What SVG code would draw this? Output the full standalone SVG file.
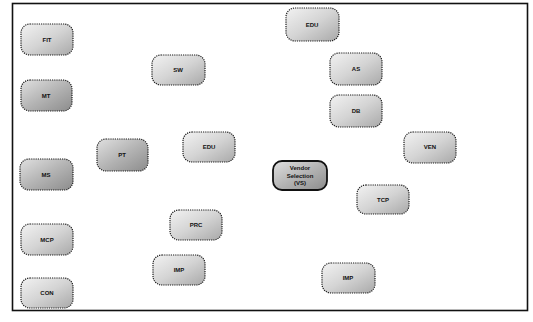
<svg xmlns="http://www.w3.org/2000/svg" width="533" height="322" viewBox="0 0 533 322">
<defs>
<linearGradient id="gl" x1="0" y1="0" x2="1" y2="1">
<stop offset="0" stop-color="#f2f2f2"/>
<stop offset="0.5" stop-color="#d4d4d4"/>
<stop offset="1" stop-color="#a9a9a9"/>
</linearGradient>
<linearGradient id="gd" x1="0" y1="0" x2="1" y2="1">
<stop offset="0" stop-color="#e0e0e0"/>
<stop offset="0.5" stop-color="#b4b4b4"/>
<stop offset="1" stop-color="#8c8c8c"/>
</linearGradient>
</defs>
<style>
.n{fill:url(#gl);stroke:#1a1a1a;stroke-width:1.2;stroke-dasharray:1.2 1}
.d{fill:url(#gd)}
.vs{fill:url(#gd);stroke:#111;stroke-width:1.8;stroke-dasharray:none}
text{font-family:"Liberation Sans",Arial,sans-serif;font-size:6px;font-weight:bold;fill:#111;text-anchor:middle;dominant-baseline:central}
</style>
<rect x="12.5" y="3.5" width="515" height="307" fill="#ffffff" stroke="#111" stroke-width="1.6"/>
<g id="connectors"></g>
<g id="n-fit"><rect class="n" x="21" y="24" width="52" height="31" rx="9"/><text x="47" y="40">FIT</text></g>
<g id="n-mt"><rect class="n d" x="21" y="80" width="51" height="31" rx="9"/><text x="46" y="96">MT</text></g>
<g id="n-ms"><rect class="n d" x="20" y="159" width="53" height="31" rx="9"/><text x="46" y="175">MS</text></g>
<g id="n-mcp"><rect class="n" x="21" y="224" width="52" height="31" rx="9"/><text x="47" y="240">MCP</text></g>
<g id="n-con"><rect class="n" x="21" y="278" width="52" height="30" rx="9"/><text x="47" y="293">CON</text></g>
<g id="n-pt"><rect class="n d" x="97" y="139" width="51" height="32" rx="9"/><text x="122" y="155">PT</text></g>
<g id="n-sw"><rect class="n" x="152" y="55" width="53" height="30" rx="9"/><text x="178" y="70">SW</text></g>
<g id="n-edu1"><rect class="n" x="183" y="132" width="52" height="30" rx="9"/><text x="209" y="147">EDU</text></g>
<g id="n-prc"><rect class="n" x="170" y="210" width="52" height="30" rx="9"/><text x="196" y="225">PRC</text></g>
<g id="n-imp1"><rect class="n" x="153" y="255" width="52" height="30" rx="9"/><text x="179" y="270">IMP</text></g>
<g id="n-edu2"><rect class="n" x="286" y="8" width="53" height="33" rx="9"/><text x="312" y="25">EDU</text></g>
<g id="n-as"><rect class="n" x="330" y="53" width="52" height="32" rx="9"/><text x="356" y="69">AS</text></g>
<g id="n-db"><rect class="n" x="330" y="95" width="52" height="32" rx="9"/><text x="356" y="111">DB</text></g>
<g id="n-vs"><rect class="n vs" x="273" y="161" width="54" height="29" rx="9"/><text x="300" y="168">Vendor</text><text x="300" y="175.5">Selection</text><text x="300" y="183">(VS)</text></g>
<g id="n-ven"><rect class="n" x="404" y="132" width="52" height="31" rx="9"/><text x="430" y="147">VEN</text></g>
<g id="n-tcp"><rect class="n" x="357" y="185" width="52" height="29" rx="9"/><text x="383" y="200">TCP</text></g>
<g id="n-imp2"><rect class="n" x="322" y="263" width="53" height="30" rx="9"/><text x="348" y="278">IMP</text></g>
</svg>
